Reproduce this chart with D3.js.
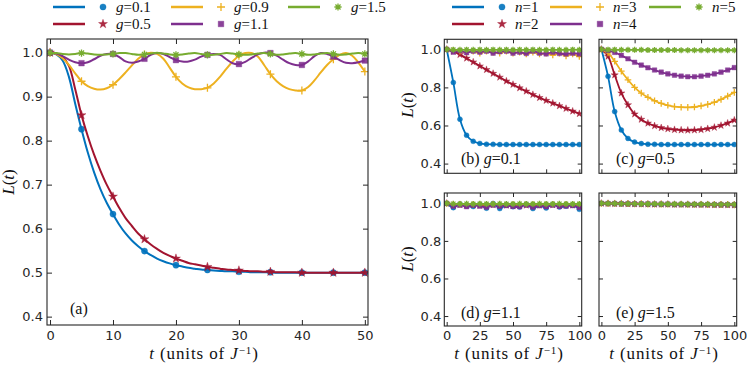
<!DOCTYPE html>
<html><head><meta charset="utf-8">
<script src="https://cdn.jsdelivr.net/npm/d3@7"></script>
<style>body{margin:0;background:#fff}svg{display:block}</style>
</head><body>
<svg id="c" width="747" height="366"></svg>
<script>
// ---------------- DATA ----------------
const colors = ["#0072BD","#A2142F","#EDB120","#7E2F8E","#77AC30"];
const symbolsKind = ["circle","star","plus","square","aster"];
const gLegend = ["0.1","0.5","0.9","1.1","1.5"];
const nLegend = ["1","2","3","4","5"];

// panel (a): t = 0..50, step 1
const tA = [0,1,2,3,4,5,6,7,8,9,10,11,12,13,14,15,16,17,18,19,20,21,22,23,24,25,26,27,28,29,30,31,32,33,34,35,36,37,38,39,40,41,42,43,44,45,46,47,48,49,50];
const aG01 = [1.000,0.996,0.982,0.945,0.884,0.826,0.773,0.728,0.690,0.659,0.633,0.609,0.589,0.573,0.560,0.549,0.540,0.532,0.526,0.521,0.517,0.514,0.511,0.509,0.507,0.506,0.505,0.504,0.503,0.503,0.502,0.502,0.501,0.501,0.501,0.501,0.500,0.500,0.500,0.500,0.500,0.500,0.500,0.500,0.500,0.500,0.500,0.500,0.500,0.500,0.500];
const aG05 = [1.000,0.998,0.990,0.970,0.917,0.858,0.810,0.768,0.732,0.700,0.673,0.647,0.624,0.606,0.589,0.576,0.564,0.554,0.545,0.538,0.532,0.527,0.522,0.519,0.516,0.513,0.511,0.509,0.507,0.506,0.505,0.504,0.503,0.503,0.502,0.502,0.501,0.501,0.501,0.501,0.500,0.500,0.500,0.500,0.500,0.500,0.500,0.500,0.500,0.500,0.500];
const aG09 = [1.000,0.997,0.987,0.972,0.953,0.935,0.924,0.918,0.916,0.919,0.927,0.940,0.955,0.971,0.986,0.996,1.000,0.997,0.986,0.966,0.945,0.930,0.921,0.917,0.917,0.920,0.930,0.945,0.963,0.980,0.993,0.999,0.999,0.991,0.972,0.951,0.935,0.924,0.917,0.914,0.914,0.922,0.937,0.955,0.972,0.985,0.995,0.999,0.993,0.977,0.957];
const aG11 = [1.000,0.998,0.992,0.984,0.978,0.976,0.978,0.985,0.993,0.997,0.997,0.990,0.980,0.977,0.980,0.986,0.995,0.999,0.997,0.990,0.983,0.980,0.980,0.984,0.991,0.995,0.997,0.995,0.985,0.976,0.974,0.979,0.988,0.996,1.000,0.999,0.993,0.984,0.976,0.972,0.972,0.980,0.992,0.999,0.997,0.991,0.983,0.977,0.976,0.978,0.982];
const aG15 = [1.000,0.999,0.997,0.996,0.997,0.999,0.998,0.996,0.995,0.996,0.997,0.999,0.999,0.997,0.995,0.996,0.998,1.000,0.998,0.996,0.995,0.996,0.998,0.999,0.997,0.995,0.995,0.997,0.999,0.998,0.996,0.995,0.996,0.998,0.999,0.997,0.995,0.996,0.998,0.999,0.997,0.995,0.996,0.998,0.999,0.997,0.995,0.996,0.998,0.999,0.997];

// panels (b)-(e): t = 0..100, step 5
const tS = [0,5,10,15,20,25,30,35,40,45,50,55,60,65,70,75,80,85,90,95,100];
const b1 = [1.0,0.826,0.633,0.549,0.517,0.506,0.502,0.501,0.500,0.500,0.500,0.500,0.500,0.500,0.500,0.500,0.500,0.500,0.500,0.500,0.500];
const b2 = [1.0,0.990,0.972,0.953,0.933,0.912,0.893,0.873,0.853,0.833,0.815,0.797,0.780,0.762,0.746,0.731,0.717,0.703,0.689,0.675,0.662];
const b3 = [1.0,0.995,0.990,0.985,0.990,0.980,0.990,0.985,0.980,0.990,0.980,0.985,0.975,0.985,0.975,0.980,0.970,0.980,0.965,0.975,0.962];
const b4 = [1.0,0.985,0.992,0.982,0.990,0.985,0.990,0.980,0.987,0.990,0.980,0.985,0.978,0.990,0.980,0.976,0.985,0.978,0.975,0.980,0.975];
const b5 = [1.0,0.998,0.997,0.998,0.997,0.998,0.997,0.998,0.997,0.998,0.997,0.998,0.997,0.998,0.997,0.997,0.998,0.997,0.997,0.998,0.997];

const c1 = [1.0,0.858,0.673,0.576,0.532,0.513,0.505,0.502,0.501,0.500,0.500,0.500,0.500,0.500,0.500,0.500,0.500,0.500,0.500,0.500,0.500];
const c2 = [1.0,0.963,0.865,0.770,0.708,0.660,0.632,0.612,0.598,0.588,0.582,0.578,0.576,0.575,0.576,0.578,0.583,0.590,0.600,0.612,0.628];
const c3 = [1.0,0.981,0.937,0.885,0.840,0.800,0.770,0.748,0.730,0.716,0.706,0.699,0.696,0.695,0.697,0.703,0.711,0.722,0.737,0.754,0.774];
const c4 = [1.0,0.993,0.984,0.968,0.950,0.932,0.917,0.903,0.891,0.880,0.871,0.864,0.859,0.856,0.856,0.859,0.864,0.871,0.880,0.891,0.904];
const c5 = [1.0,0.998,0.998,0.997,0.997,0.997,0.997,0.996,0.996,0.996,0.996,0.996,0.995,0.995,0.995,0.995,0.995,0.995,0.995,0.995,0.995];

const d1 = [1.0,0.977,0.996,0.986,0.983,0.995,0.974,0.999,0.972,0.991,0.982,0.980,0.995,0.972,0.990,0.975,0.995,0.980,0.985,0.990,0.968];
const d2 = [1.0,0.990,0.993,0.990,0.992,0.990,0.988,0.993,0.990,0.990,0.988,0.992,0.990,0.987,0.991,0.988,0.992,0.989,0.990,0.991,0.985];
const d3v = [1.0,0.995,0.994,0.993,0.995,0.993,0.994,0.995,0.993,0.994,0.994,0.993,0.995,0.993,0.994,0.993,0.995,0.993,0.994,0.994,0.992];
const d4 = [1.0,0.985,0.990,0.982,0.990,0.985,0.980,0.990,0.985,0.988,0.984,0.982,0.990,0.980,0.987,0.982,0.990,0.984,0.986,0.988,0.978];
const d5 = [1.0,0.998,0.997,0.998,0.997,0.998,0.997,0.997,0.998,0.997,0.997,0.998,0.997,0.997,0.998,0.997,0.997,0.998,0.997,0.997,0.997];

const e1 = [1.0,0.999,0.998,0.997,0.997,0.996,0.996,0.995,0.995,0.994,0.994,0.993,0.993,0.993,0.992,0.992,0.992,0.991,0.991,0.991,0.990];
const e2 = [1.0,0.999,0.998,0.998,0.997,0.997,0.996,0.996,0.995,0.995,0.995,0.994,0.994,0.994,0.993,0.993,0.993,0.992,0.992,0.992,0.991];
const e3 = [1.0,0.999,0.999,0.998,0.998,0.997,0.997,0.996,0.996,0.996,0.995,0.995,0.995,0.994,0.994,0.994,0.993,0.993,0.993,0.993,0.992];
const e4 = [1.0,0.999,0.999,0.998,0.998,0.997,0.997,0.997,0.996,0.996,0.996,0.995,0.995,0.995,0.995,0.994,0.994,0.994,0.994,0.993,0.993];
const e5 = [1.0,0.999,0.999,0.998,0.998,0.998,0.997,0.997,0.997,0.996,0.996,0.996,0.996,0.995,0.995,0.995,0.995,0.994,0.994,0.994,0.994];

const xTicksA = [0,10,20,30,40,50];
const yTicksA = [0.4,0.5,0.6,0.7,0.8,0.9,1.0];
const xTicksS = [0,25,50,75,100];
const yTicksS = [0.4,0.6,0.8,1.0];

// ---------------- DRAW ----------------
const svg = d3.select("#c");
const TICKFONT = "'DejaVu Sans', sans-serif";
const SERIF = "'Liberation Serif', 'Times New Roman', serif";
const AXC = "#262626";

function symPath(kind, s){
  switch(kind){
    case "circle": return d3.symbol(d3.symbolCircle, Math.PI*s.r*s.r)();
    case "star": return d3.symbol(d3.symbolStar, s.star*s.star/0.8908130915)();
    case "square": return d3.symbol(d3.symbolSquare, s.sq*s.sq)();
    case "plus": { const a=s.plus; return `M${-a},0H${a}M0,${-a}V${a}`; }
    case "aster": { const a=s.ast, b=a*0.7071; return `M${-a},0H${a}M0,${-a}V${a}M${-b},${-b}L${b},${b}M${-b},${b}L${b},${-b}`; }
  }
}
function drawSym(g, kind, color, x, y, s){
  const stroked = (kind==="plus"||kind==="aster");
  g.append("path").attr("d", symPath(kind, s))
    .attr("transform", `translate(${x},${y})`)
    .attr("fill", stroked ? "none" : color)
    .attr("fill-opacity", 0.9)
    .attr("stroke", color)
    .attr("stroke-opacity", stroked ? 1 : 0.45)
    .attr("stroke-width", stroked ? 1.3 : 0.8);
}

function panel(box, xDom, yDom, xTicks, yTicks, series, t, opts){
  const x = d3.scaleLinear().domain(xDom).range([box.x0, box.x1]);
  const y = d3.scaleLinear().domain(yDom).range([box.y1, box.y0]);
  const g = svg.append("g");
  const tl = opts.tick;
  const bottom = d3.axisBottom(x).tickValues(xTicks).tickSize(-tl).tickPadding(opts.xpad).tickFormat(opts.xLabels ? d3.format("d") : "");
  const top = d3.axisTop(x).tickValues(xTicks).tickSize(-tl).tickFormat("");
  const left = d3.axisLeft(y).tickValues(yTicks).tickSize(-tl).tickPadding(opts.ypad).tickFormat(opts.yLabels ? d3.format(".1f") : "");
  const right = d3.axisRight(y).tickValues(yTicks).tickSize(-tl).tickFormat("");
  const style = sel => { sel.select(".domain").remove(); sel.selectAll("line").attr("stroke", AXC).attr("stroke-width",1);
    sel.selectAll("text").attr("fill", AXC).attr("font-family", TICKFONT).attr("font-size", 13); };
  g.append("g").attr("transform",`translate(0,${box.y1})`).call(bottom).call(style);
  g.append("g").attr("transform",`translate(0,${box.y0})`).call(top).call(style);
  g.append("g").attr("transform",`translate(${box.x0},0)`).call(left).call(style);
  g.append("g").attr("transform",`translate(${box.x1},0)`).call(right).call(style);

  const clipId = "clip" + Math.round(box.x0) + "_" + Math.round(box.y0);
  svg.append("clipPath").attr("id", clipId).append("rect")
    .attr("x", box.x0).attr("y", box.y0).attr("width", box.x1-box.x0).attr("height", box.y1-box.y0);
  const plot = g.append("g").attr("clip-path", `url(#${clipId})`);
  const line = d3.line().x((d,i)=>x(t[i])).y(d=>y(d)).curve(d3.curveCatmullRom.alpha(0.5));
  series.forEach((vals, k) => {
    plot.append("path").attr("d", line(vals)).attr("fill","none")
      .attr("stroke", colors[k]).attr("stroke-width", opts.lw).attr("stroke-linejoin","round");
    vals.forEach((v,i) => {
      if (t[i] % opts.markEvery === 0) drawSym(plot, symbolsKind[k], colors[k], x(t[i]), y(v), opts.sym);
    });
  });
  g.append("rect").attr("x", box.x0).attr("y", box.y0).attr("width", box.x1-box.x0).attr("height", box.y1-box.y0)
    .attr("fill","none").attr("stroke", AXC).attr("stroke-width", 1.1);
  return {g, x, y};
}

const symBig = {r:3.1, star:4.7, sq:5.6, plus:4, ast:3.6};
const symSmall = {r:2.5, star:3.8, sq:4.6, plus:3.3, ast:3.0};

const boxA = {x0:47, x1:368, y0:39, y1:325};
panel(boxA, [-0.48,50.5], [0.381,1.031], xTicksA, yTicksA, [aG01,aG05,aG09,aG11,aG15], tA,
  {tick:5, xpad:6, ypad:4, xLabels:true, yLabels:true, lw:2, markEvery:5, sym:symBig});

const boxB = {x0:444.3, x1:581.7, y0:39.3, y1:173.3};
const boxC = {x0:599, x1:736.7, y0:39.3, y1:173.3};
const boxD = {x0:444.3, x1:581.7, y0:193, y1:326};
const boxE = {x0:599, x1:736.7, y0:193, y1:326};
const optS = (xl, yl) => ({tick:4, xpad:5, ypad:3, xLabels:xl, yLabels:yl, lw:1.8, markEvery:5, sym:symSmall});
panel(boxB, [-1.8,101.8], [0.349,1.0525], xTicksS, yTicksS, [b1,b2,b3,b4,b5], tS, optS(false,true));
panel(boxC, [-1.8,101.8], [0.349,1.0525], xTicksS, yTicksS, [c1,c2,c3,c4,c5], tS, optS(false,false));
panel(boxD, [-1.8,101.8], [0.347,1.055], xTicksS, yTicksS, [d1,d2,d3v,d4,d5], tS, optS(true,true));
panel(boxE, [-1.8,101.8], [0.347,1.055], xTicksS, yTicksS, [e1,e2,e3,e4,e5], tS, optS(true,false));

function mathLabel(x, y, pre, varName, val, size){
  const t = svg.append("text").attr("x", x).attr("y", y).attr("font-family", SERIF).attr("font-size", size).attr("fill", "#111");
  if (pre) t.append("tspan").text(pre);
  t.append("tspan").attr("font-style","italic").text(varName);
  t.append("tspan").text("=" + val);
  return t;
}
svg.append("text").attr("x",70).attr("y",314).attr("font-family",SERIF).attr("font-size",16).attr("fill","#111").text("(a)");
mathLabel(461,164,"(b) ","g","0.1",16);
mathLabel(616,164,"(c) ","g","0.5",16);
mathLabel(461,318,"(d) ","g","1.1",16);
mathLabel(616,318,"(e) ","g","1.5",16);

function yTitle(cx, cy){
  const t = svg.append("text").attr("transform",`translate(${cx},${cy}) rotate(-90)`).attr("text-anchor","middle")
    .attr("font-family",SERIF).attr("font-size",17).attr("fill","#111");
  t.append("tspan").attr("font-style","italic").text("L");
  t.append("tspan").text("(");
  t.append("tspan").attr("font-style","italic").text("t");
  t.append("tspan").text(")");
}
yTitle(14, 182); yTitle(413, 105); yTitle(413, 259);
function xTitle(cx, by){
  const t = svg.append("text").attr("x",cx).attr("y",by).attr("text-anchor","middle")
    .attr("font-family",SERIF).attr("font-size",17).attr("fill","#111").attr("letter-spacing","0.9");
  t.append("tspan").attr("font-style","italic").text("t");
  t.append("tspan").text(" (units of ");
  t.append("tspan").attr("font-style","italic").text("J");
  t.append("tspan").attr("font-size",11).attr("dy",-5).text("\u22121");
  t.append("tspan").attr("dy",5).text(")");
}
xTitle(204, 358.5); xTitle(509, 358.5); xTitle(664, 358.5);

function legendItem(lx, ly, k, varName, val){
  svg.append("line").attr("x1",lx).attr("x2",lx+32).attr("y1",ly).attr("y2",ly)
    .attr("stroke",colors[k]).attr("stroke-width",2.5);
  drawSym(svg, symbolsKind[k], colors[k], lx+50, ly, symBig);
  mathLabel(lx+63, ly+5, null, varName, val, 15);
}
const legColsL = [53,171,288];
const legColsR = [452,550,649];
const legRows = [7,24];
[0,1,2,3,4].forEach(k => {
  const col = Math.floor(k/2), row = k%2;
  legendItem(legColsL[col], legRows[row], k, "g", gLegend[k]);
  legendItem(legColsR[col], legRows[row], k, "n", nLegend[k]);
});
</script>
</body></html>
